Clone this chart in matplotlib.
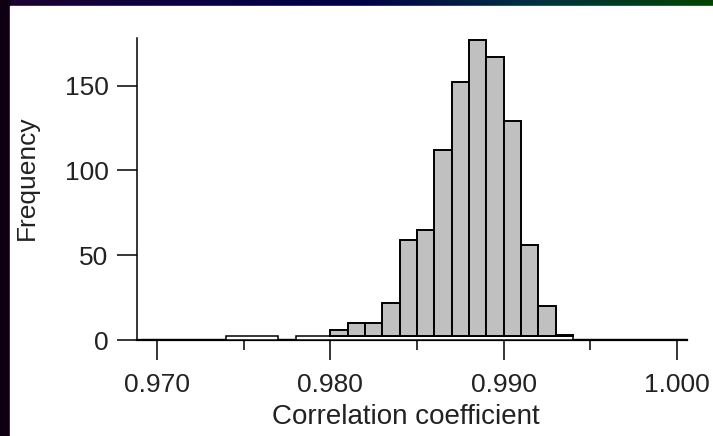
import numpy as np
import matplotlib
matplotlib.use("Agg")
import matplotlib.pyplot as plt
from matplotlib.patches import Rectangle
from matplotlib.colors import LinearSegmentedColormap

# histogram of correlation coefficients, bins of width 0.001
bin_start = 0.969
bin_width = 0.001
counts = [0, 0, 0, 0, 0,      # 0.969 - 0.973
          1, 1, 1, 0, 1, 1,   # 0.974 - 0.979
          6, 10, 10, 22, 59, 65, 112, 152, 177, 167, 129, 56, 20, 3,  # 0.980 - 0.993
          0, 0, 0, 0, 0, 0, 0]  # 0.994 - 1.000
x_ticks = [0.970, 0.980, 0.990, 1.000]
x_minor = [0.975, 0.985, 0.995]
y_ticks = [0, 50, 100, 150]

plt.rcParams['font.family'] = ['Liberation Sans', 'DejaVu Sans']
txt = '#222222'

fig = plt.figure(figsize=(7.13, 4.36), dpi=100)

# dark slide frame with gradient strip along the top
bg = fig.add_axes([0, 0, 1, 1])
bg.set_axis_off()
frame = LinearSegmentedColormap.from_list(
    'frame', ['#1c0030', '#0a0040', '#000048', '#003040', '#004400'])
bg.imshow(np.linspace(0, 1, 256)[None, :], cmap=frame, aspect='auto',
          extent=[0, 1, 0, 1])
bg.add_patch(Rectangle((0, 0), 10 / 713, 1, color='#0e0012'))
bg.add_patch(Rectangle((10 / 713, 0), 1, 1 - 6 / 436, color='white'))
bg.set_xlim(0, 1)
bg.set_ylim(0, 1)

ax = fig.add_axes([137 / 713, 96 / 436, 550 / 713, 302 / 436])
ax.patch.set_alpha(0)

edges = bin_start + bin_width * np.arange(len(counts))
counts = np.array(counts)
base = 2.2

# empty bins collapse into a heavy line on the baseline
zero = counts == 0
ax.bar(edges[zero], 0, width=bin_width, align='edge', color='black',
       edgecolor='black', linewidth=2.3, zorder=3)

# occupied bins sit on a continuous white band
filled = counts > 0
i = 0
while i < len(counts):
    if filled[i]:
        j = i
        while j < len(counts) and filled[j]:
            j += 1
        ax.add_patch(Rectangle((edges[i], 0), bin_width * (j - i), base,
                               facecolor='white', edgecolor='black',
                               linewidth=1.1, zorder=3))
        i = j
    else:
        i += 1

tall = counts > base
ax.bar(edges[tall], counts[tall] - base, bottom=base, width=bin_width,
       align='edge', color='#c0c0c0', edgecolor='black', linewidth=1.4,
       zorder=4)

ax.set_xlim(0.96885, 1.00058)
ax.set_ylim(0, 178)

for s in ['top', 'right']:
    ax.spines[s].set_visible(False)
ax.spines['left'].set_linewidth(1.1)
ax.spines['bottom'].set_linewidth(1.6)

ax.set_xticks(x_ticks)
ax.set_xticklabels(['%.3f' % v for v in x_ticks])
ax.set_xticks(x_minor, minor=True)
ax.set_yticks(y_ticks)
ax.tick_params(axis='both', which='major', length=14.5, width=1.1,
               labelsize=19, labelcolor=txt, color='black')
ax.tick_params(axis='x', which='major', pad=9)
ax.tick_params(axis='y', which='major', pad=6)
ax.tick_params(axis='x', which='minor', length=7.5, width=1.1)

ax.set_xlabel('Correlation coefficient', fontsize=20, color=txt)
ax.set_ylabel('Frequency', fontsize=19, color=txt)
ax.xaxis.label.set_va('center')
ax.yaxis.label.set_va('center')
ax.xaxis.set_label_coords(0.489, -0.255)
ax.yaxis.set_label_coords(-0.2, 0.538)

fig.savefig('out.png', dpi=100)
